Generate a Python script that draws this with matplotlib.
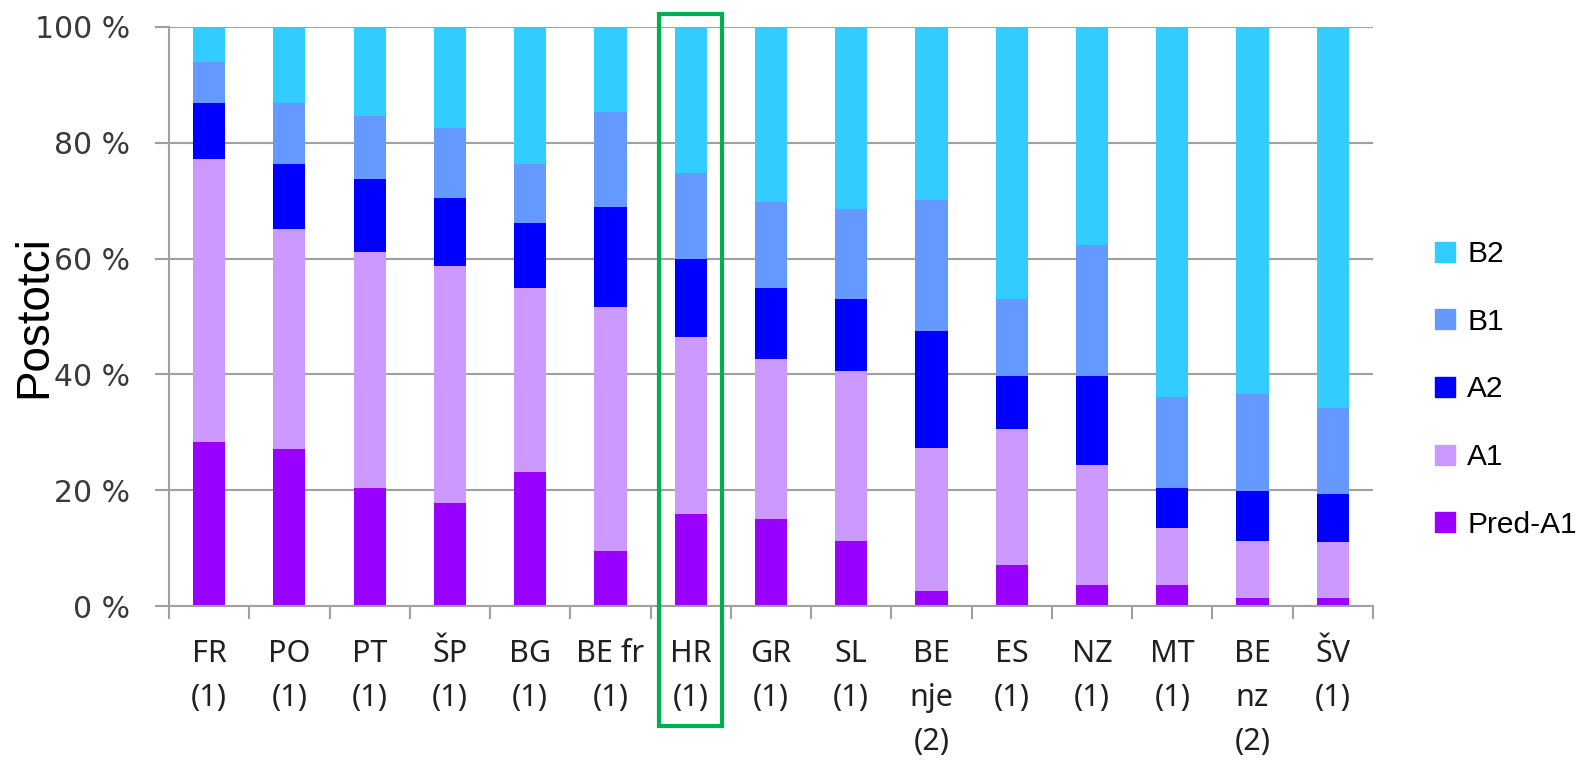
import numpy as np
import matplotlib.pyplot as plt
from matplotlib.patches import Rectangle
from matplotlib.lines import Line2D
import matplotlib.transforms as mtransforms

# data (percent per level)
countries = ["FR\n(1)", "PO\n(1)", "PT\n(1)", "ŠP\n(1)", "BG\n(1)", "BE fr\n(1)", "HR\n(1)",
             "GR\n(1)", "SL\n(1)", "BE\nnje\n(2)", "ES\n(1)", "NZ\n(1)", "MT\n(1)",
             "BE\nnz\n(2)", "ŠV\n(1)"]
pre_a1 = [28.4, 27.1, 20.3, 17.8, 23.1, 9.5, 15.9, 15.0, 11.3, 2.6, 7.0, 3.6, 3.6, 1.4, 1.4]
a1 = [48.8, 38.0, 40.8, 40.9, 31.9, 42.2, 30.6, 27.6, 29.3, 24.7, 23.5, 20.7, 9.8, 9.9, 9.6]
a2 = [9.6, 11.3, 12.7, 11.8, 11.1, 17.2, 13.4, 12.4, 12.5, 20.2, 9.3, 15.5, 6.9, 8.6, 8.4]
b1 = [7.1, 10.4, 10.8, 12.0, 10.3, 16.4, 14.8, 14.8, 15.4, 22.6, 13.3, 22.6, 15.8, 16.8, 14.8]
b2 = [6.1, 13.2, 15.4, 17.5, 23.6, 14.7, 25.3, 30.2, 31.5, 29.9, 46.9, 37.6, 63.9, 63.3, 65.8]
levels = ["Pred-A1", "A1", "A2", "B1", "B2"]
colors = ["#9900ff", "#cc99ff", "#0000ff", "#6699ff", "#33ccff"]

fig = plt.figure(figsize=(15.81, 7.62), dpi=100)
ax = fig.add_axes([0.1069, 0.2047, 0.7615, 0.7599])

x = np.arange(len(countries))
bottom = np.zeros(len(countries))
for vals, col in zip([pre_a1, a1, a2, b1, b2], colors):
    ax.bar(x, vals, 0.4, bottom=bottom, color=col, zorder=2)
    bottom += np.array(vals)

ax.set_xlim(-0.5, len(countries) - 0.5)
ax.set_ylim(0, 100)

grey = "#a0a0a0"
ax.yaxis.grid(True, color=grey, lw=1.5, zorder=0)
ax.set_axisbelow(True)
for s in ["top", "right"]:
    ax.spines[s].set_visible(False)
for s in ["left", "bottom"]:
    ax.spines[s].set_color(grey)
    ax.spines[s].set_linewidth(1.5)

ax.set_yticks(range(0, 101, 20))
ax.set_yticklabels([f"{v} %" for v in range(0, 101, 20)], fontsize=21.5,
                   family="DejaVu Sans", color="#3a3a3a")
ax.tick_params(axis="y", length=10, width=1.5, color=grey, pad=18)

ax.set_xticks(np.arange(-0.5, len(countries), 1))
ax.set_xticklabels([])
ax.tick_params(axis="x", which="major", length=9.5, width=1.5, color=grey)
ax.set_xticks(x, minor=True)
ax.set_xticklabels(countries, minor=True, fontsize=22, family="Noto Sans",
                   color="#202020")
for t in ax.xaxis.get_minorticklabels():
    t.set_linespacing(1.6)
ax.tick_params(axis="x", which="minor", length=0, pad=24)

ax.set_ylabel("Postotci", fontsize=33, family="Liberation Sans")
ax.yaxis.set_label_coords(-0.0935, 0.5)

# legend, B2 on top
handles = [Line2D([], [], marker="s", ls="", markersize=15, color=c) for c in colors[::-1]]
fig.legend(handles, levels[::-1], loc="center left", bbox_to_anchor=(0.9065, 0.489),
           frameon=False, prop={"family": "Liberation Sans", "size": 21.5},
           labelspacing=1.33, handlelength=0.8, handletextpad=0.34,
           borderpad=0, borderaxespad=0)

# green frame around HR
trans = mtransforms.blended_transform_factory(ax.transData, ax.transAxes)
hr = countries.index("HR\n(1)")
ax.add_patch(Rectangle((hr - 0.39, -0.207), 0.78, 1.229, transform=trans, fill=False,
                       edgecolor="#00b050", lw=3, clip_on=False, zorder=5))

fig.savefig("out.png", dpi=100)
